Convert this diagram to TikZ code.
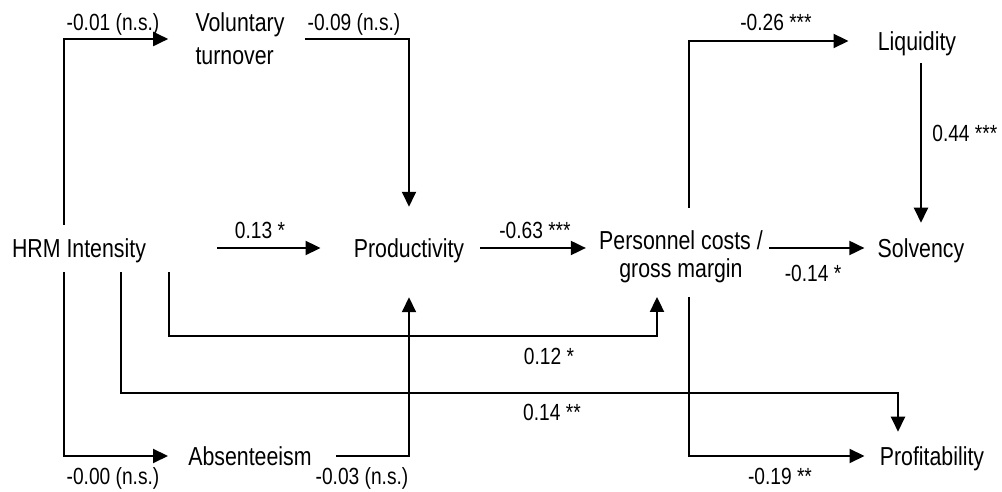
\documentclass[tikz,border=0pt]{standalone}
\usepackage{fontspec}
\setmainfont[FakeStretch=0.82]{Liberation Sans}
\usepackage{tikz}
\usetikzlibrary{arrows.meta}
\tikzset{>={Triangle[length=3mm,width=2.8mm]}}

\begin{document}
\begin{tikzpicture}[x=0.02cm,y=-0.02cm,
    var/.style={inner sep=0pt,font=\fontsize{14.8}{17.5}\selectfont,text height=10.7pt,text depth=0pt},
    var2/.style={inner sep=0pt},
    coef/.style={inner sep=0pt,font=\fontsize{13.3}{16}\selectfont,text height=9.6pt,text depth=0pt},
    link/.style={->,line width=1.1pt}]

    \useasboundingbox (0,0) rectangle (1002,492);

    % variables
    \node[var] (hrm) at (79,248) {HRM Intensity};
    \node[var2,align=left,font=\fontsize{14.8}{18.8}\selectfont] (vol) at (240,39) {Voluntary\\turnover};
    \node[var] (prod) at (409,248) {Productivity};
    \node[var2,align=center,font=\fontsize{14.8}{15.9}\selectfont] (pers) at (681,257) {Personnel costs /\\gross margin};
    \node[var] (liq) at (917,41) {Liquidity};
    \node[var] (solv) at (921,248) {Solvency};
    \node[var] (abs) at (250,456) {Absenteeism};
    \node[var] (prof) at (932,456) {Profitability};

    % paths
    \draw[link,shorten <=0.27cm,shorten >=0.54cm] ([xshift=-0.3cm]hrm.north) |- (vol.west);
    \draw[link,shorten <=0.4cm,shorten >=0.63cm] (vol.east) -| (prod.north);
    \draw[link,shorten <=1.42cm,shorten >=0.66cm] (hrm) -- (prod);
    \draw[link,shorten <=0.32cm,shorten >=0.26cm] (prod) -- (prod -| pers.west);
    \draw[link,shorten <=0.12cm,shorten >=0.26cm] (pers.east |- solv) -- (solv);
    \draw[link,shorten <=0.46cm,shorten >=0.58cm] ([xshift=0.16cm]pers.north) |- (liq.west);
    \draw[link,shorten <=0.25cm,shorten >=0.31cm] (solv |- liq.south) -- (solv.north);
    \draw[link,shorten <=0.29cm,shorten >=0.4cm] ([xshift=-0.3cm]hrm.south) |- (abs.west);
    \draw[link,shorten <=0.48cm,shorten >=0.79cm] (abs.east) -| (prod.south);
    \draw[link,shorten <=0.29cm,shorten >=0.27cm] ([xshift=1.8cm]hrm.south) -- ++(0,78) -| ([xshift=-0.48cm]pers.south);
    \draw[link,shorten <=0.29cm,shorten >=0.29cm] ([xshift=0.84cm]hrm.south) -- ++(0,135) -| ([xshift=-0.68cm]prof.north);
    \draw[link,shorten <=0.27cm,shorten >=0.3cm] ([xshift=0.16cm]pers.south) |- (prof.west);

    % coefficients
    \node[coef] (c1) at (113,22) {-0.01 (n.s.)};
    \node[coef] (c2) at (354,22) {-0.09 (n.s.)};
    \node[coef] (c3) at (260,230) {0.13 *};
    \node[coef] (c4) at (535,230) {-0.63 ***};
    \node[coef] (c5) at (813,273) {-0.14 *};
    \node[coef] (c6) at (776,22) {-0.26 ***};
    \node[coef,anchor=west] (c7) at (932,133) {0.44 ***};
    \node[coef] (c8) at (549,356) {0.12 *};
    \node[coef] (c9) at (552,412) {0.14 **};
    \node[coef] (c10) at (113,476) {-0.00 (n.s.)};
    \node[coef] (c11) at (362,476) {-0.03 (n.s.)};
    \node[coef] (c12) at (780,476) {-0.19 **};

\end{tikzpicture}
\end{document}
